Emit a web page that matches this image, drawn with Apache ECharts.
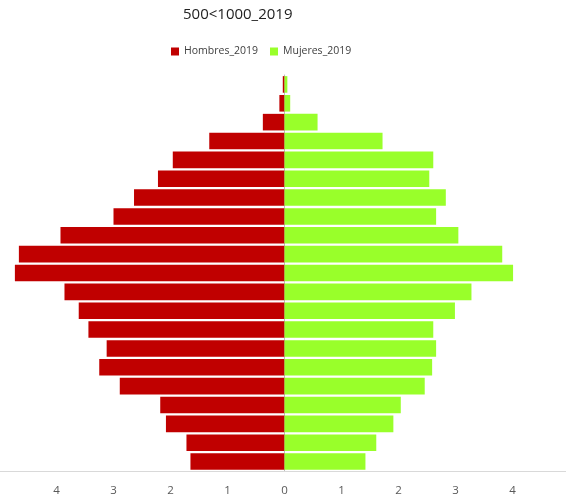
<!DOCTYPE html>
<html>
<head>
<meta charset="utf-8">
<script src="https://cdn.jsdelivr.net/npm/echarts@6/dist/echarts.min.js"></script>
<style>
  html, body { margin: 0; padding: 0; background: #fff; }
  #chart { width: 566px; height: 499px; }
</style>
</head>
<body>
<div id="chart"></div>
<script>
// age groups, youngest at the bottom
const ageGroups = ["0-4", "5-9", "10-14", "15-19", "20-24", "25-29", "30-34", "35-39",
  "40-44", "45-49", "50-54", "55-59", "60-64", "65-69", "70-74", "75-79",
  "80-84", "85-89", "90-94", "95-99", "100+"];
const hombres = [1.65, 1.72, 2.08, 2.18, 2.89, 3.25, 3.12, 3.44, 3.61, 3.86,
  4.73, 4.66, 3.93, 3.0, 2.64, 2.22, 1.96, 1.32, 0.38, 0.09, 0.03];
const mujeres = [1.42, 1.61, 1.91, 2.04, 2.46, 2.59, 2.66, 2.61, 2.99, 3.28,
  4.01, 3.82, 3.05, 2.66, 2.83, 2.54, 2.61, 1.72, 0.58, 0.1, 0.05];

const chart = echarts.init(document.getElementById("chart"));
const option = {
  animation: false,
  title: {
    text: "500<1000_2019",
    left: 178,
    top: 2,
    textStyle: { fontFamily: "Open Sans", fontSize: 15, fontWeight: "normal", color: "#222" }
  },
  legend: {
    data: ["Hombres_2019", "Mujeres_2019"],
    left: 166,
    top: 41,
    itemWidth: 8,
    itemHeight: 8,
    itemGap: 12,
    icon: "rect",
    textStyle: { fontFamily: "Open Sans", fontSize: 10.5, color: "#404040" }
  },
  grid: { left: -0.5, width: 570, top: 75, bottom: 28, outerBoundsMode: "none" },
  xAxis: {
    type: "value",
    min: -5,
    max: 5,
    interval: 1,
    splitLine: { show: false },
    axisTick: { show: false },
    axisLine: { show: true, lineStyle: { color: "#d9d9d9" } },
    axisLabel: {
      showMinLabel: false,
      showMaxLabel: false,
      margin: 14,
      color: "#595959",
      fontFamily: "Open Sans",
      fontSize: 11.5,
      formatter: v => Math.abs(v)
    }
  },
  yAxis: {
    type: "category",
    data: ageGroups,
    axisTick: { show: false },
    axisLabel: { show: false },
    axisLine: { show: true, onZero: true, lineStyle: { color: "#bfbfbf" } }
  },
  series: [
    {
      name: "Hombres_2019",
      type: "bar",
      stack: "pyr",
      barCategoryGap: "12%",
      itemStyle: { color: "#C00000" },
      data: hombres.map(v => -v)
    },
    {
      name: "Mujeres_2019",
      type: "bar",
      stack: "pyr",
      barCategoryGap: "12%",
      itemStyle: { color: "#99FF2A" },
      data: mujeres
    }
  ]
};
chart.setOption(option);
</script>
</body>
</html>
